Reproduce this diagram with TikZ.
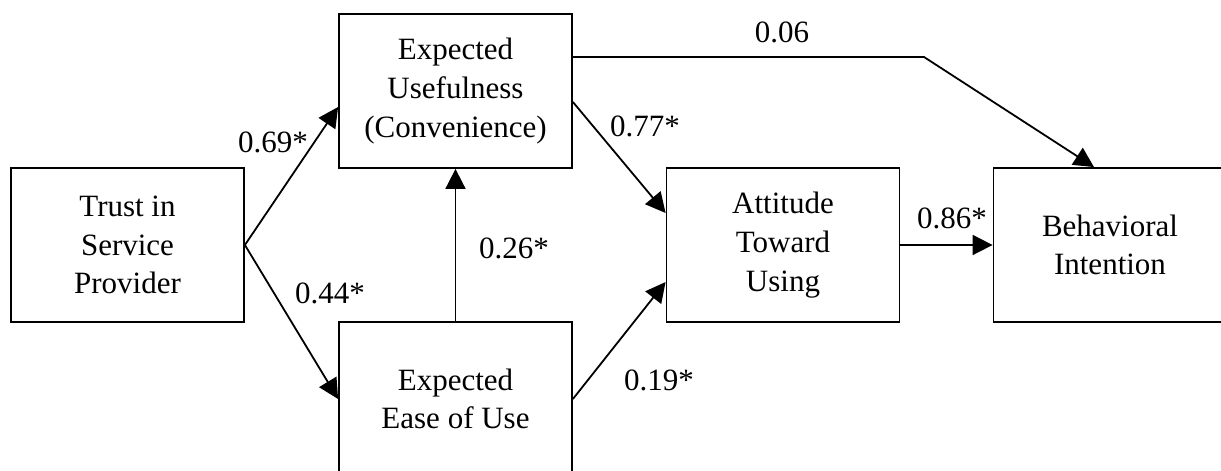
\documentclass[tikz,border=0pt]{standalone}
\usepackage{fontspec}
\setmainfont{Liberation Serif}
\usetikzlibrary{arrows.meta,calc}

\tikzset{
    box/.style={draw, line width=0.9pt, minimum width=116.5pt, minimum height=77pt,
        align=center, inner sep=0pt},
    conn/.style={line width=0.9pt, -{Triangle[length=10pt,width=10pt]}},
    coef/.style={inner sep=0pt}
}

\begin{document}
\begin{tikzpicture}[x=0.5pt, y=0.5pt, font=\fontsize{15.5}{19.3}\selectfont]
    \useasboundingbox (0,0) rectangle (1221,471);

    % Constructs
    \node[box] (trust)    at (127.5,226) {Trust in\\Service\\Provider};
    \node[box] (useful)   at (455.5,380) {Expected\\Usefulness\\(Convenience)};
    \node[box] (ease)     at (455.5,72)  {Expected\\Ease of Use};
    \node[box] (attitude) at (783,226)   {Attitude\\Toward\\Using};
    \node[box] (behav)    at (1110,226)  {Behavioral\\Intention};

    % Paths
    \draw[conn] (trust.east) -- ($(useful.west)+(0,-16)$);
    \draw[conn] (trust.east) -- (ease.west);
    \draw[conn] (ease.north) -- (useful.south);
    \draw[conn] ($(useful.east)+(0,-11)$) -- ($(attitude.west)+(0,32)$);
    \draw[conn] (ease.east) -- ($(attitude.west)+(0,-37)$);
    \draw[conn] (attitude.east) -- (behav.west);
    \coordinate (bend) at (924,414);
    \draw[conn] ($(useful.east)+(0,34)$) -- (bend) -- ($(behav.north)+(-16,0)$);

    % Coefficients
    \node[coef] (c069) at (273,329) {0.69*};
    \node[coef] (c044) at (330,178) {0.44*};
    \node[coef] (c026) at (514,223) {0.26*};
    \node[coef] (c077) at (645,345) {0.77*};
    \node[coef] (c019) at (659,91)  {0.19*};
    \node[coef] (c086) at (952,253) {0.86*};
    \node[coef] (c006) at (782,439) {0.06};
\end{tikzpicture}
\end{document}
